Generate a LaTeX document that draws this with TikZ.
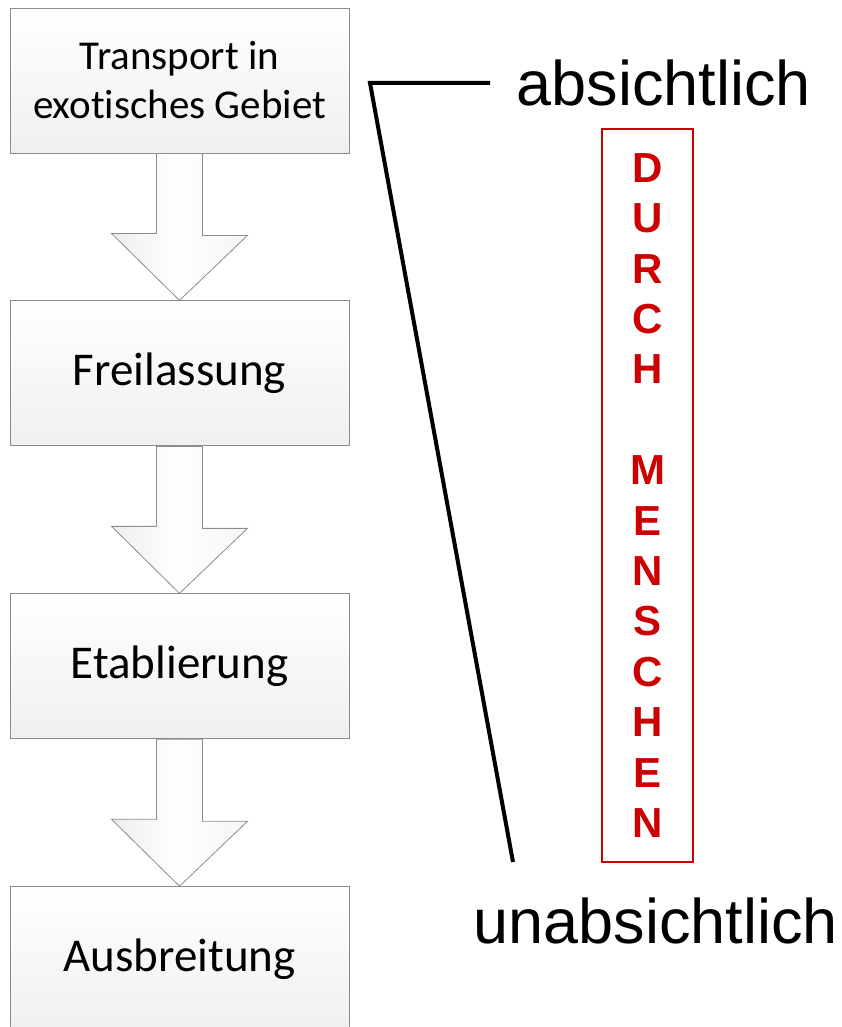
\documentclass[tikz,border=0pt]{standalone}
\usepackage{fontspec}
\setmainfont[Ligatures=NoCommon]{Carlito}
\newfontfamily\arialfont{Liberation Sans}
\usepackage{xcolor}
\usetikzlibrary{positioning}
\definecolor{menschrot}{HTML}{CC0000}
\definecolor{rahmengrau}{HTML}{8C8C8C}
\tikzset{
  Kasten/.style={draw=rahmengrau,line width=0.9pt,top color=white,bottom color=gray!12,
    minimum width=339pt,minimum height=145pt,inner sep=0pt,align=center,
    font=\fontsize{47}{56}\selectfont}, % Prozessschritte
  BlockPfeil/.style={draw=rahmengrau,line width=0.8pt,left color=gray!14,right color=gray!8,
    middle color=white}, % Pfeile zwischen den Schritten
  Stufe/.style={anchor=base west,font=\arialfont\fontsize{63}{70}\selectfont}
}
\begin{document}
\begin{tikzpicture}[x=1pt,y=-1pt,>=latex]
\useasboundingbox (0,0) rectangle (841,1027);

%Kästen
\node[Kasten,font=\fontsize{41}{49}\selectfont] (trans) at (179.5,80.5) {Transport in\\exotisches Gebiet};
\node[Kasten,below=147pt of trans] (frei) {Freilassung};
\node[Kasten,below=147pt of frei] (etab) {Etablierung};
\node[Kasten,below=147pt of etab] (ausb) {Ausbreitung};

%Pfeile
\foreach \a/\b in {trans/frei,frei/etab,etab/ausb}
  \draw[BlockPfeil] ([xshift=-23pt]\a.south) -- ++(0,80) -- ++(-45,0) -- (\b.north)
    -- ++(68,-65) -- ++(-45,0) -- ([xshift=23pt]\a.south) -- cycle;

%Linie
\coordinate (oben) at (490,83);
\coordinate (knick) at (370,83);
\coordinate (unten) at (513,862);
\draw[line width=4pt,line join=miter] (oben) -- (knick) -- (unten);

%Beschriftung
\node[Stufe] (absi) at (513,106) {absichtlich};
\node[Stufe] (unabsi) at (470,943) {unabsichtlich};

\node[draw=menschrot,line width=1.3pt,text=menschrot,minimum width=91pt,minimum height=733pt,
  inner sep=0pt,align=center,font=\arialfont\bfseries\fontsize{42}{50.4}\selectfont]
  (mensch) at (647.5,495.5) {D\\U\\R\\C\\H\\~\\M\\E\\N\\S\\C\\H\\E\\N};
\end{tikzpicture}
\end{document}
